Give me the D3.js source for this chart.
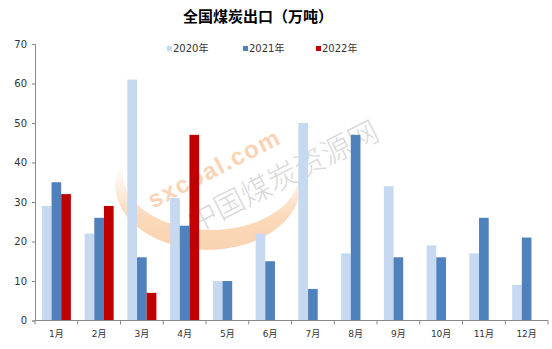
<!DOCTYPE html>
<html>
<head>
<meta charset="utf-8">
<script src="https://cdn.jsdelivr.net/npm/d3@7"></script>
<style>
  body { margin:0; background:#fff; }
  text { font-family: Tahoma, "DejaVu Sans", "Noto Sans CJK SC", sans-serif; }
</style>
</head>
<body>
<div class="container"></div>
<script>
// 数据
var months=["1月","2月","3月","4月","5月","6月","7月","8月","9月","10月","11月","12月"];
var series=["2020年","2021年","2022年"];
var v2020=[29,22,61,31,10,22,50,17,34,19,17,9];
var v2021=[35,26,16,24,10,15,8,47,16,16,26,21];
var v2022=[32,29,7,47];
var yTicks=[0,10,20,30,40,50,60,70];
var colors=["#C6D9F1","#4F81BD","#C00000"];

var w=552, h=349;
var mLeft=35, mRight=548, mTop=44, mBottom=320.5;
var groupW=29;

var svg=d3.select(".container").append("svg")
  .attr("width",w).attr("height",h);

// 水印（椭圆月牙）
function ell(cx,cy,rx,ry){
  return "M"+(cx-rx)+","+cy+" a"+rx+","+ry+" 0 1,0 "+(2*rx)+",0 a"+rx+","+ry+" 0 1,0 "+(-2*rx)+",0 Z";
}
var defs=svg.append("defs");
var grad=defs.append("linearGradient").attr("id","wg")
  .attr("x1","0").attr("y1","0").attr("x2","0").attr("y2","1");
grad.append("stop").attr("offset","0.35").attr("stop-color","#F8B070").attr("stop-opacity",0);
grad.append("stop").attr("offset","0.75").attr("stop-color","#F6A55A").attr("stop-opacity",1);
grad.append("stop").attr("offset","1").attr("stop-color","#F39A4C").attr("stop-opacity",1);
defs.append("clipPath").attr("id","wc")
  .append("path").attr("d",ell(208,185,93,65));
var wmark=svg.append("g").attr("opacity",0.42);
wmark.append("path")
  .attr("d",ell(208,185,93,65)+ell(211,174,88,56))
  .attr("fill-rule","evenodd").attr("clip-path","url(#wc)")
  .attr("fill","url(#wg)");
wmark.append("text")
  .attr("transform","translate(215,170) rotate(-27)")
  .attr("text-anchor","middle").attr("dominant-baseline","middle")
  .attr("fill","#F29A4E").attr("font-weight","bold")
  .style("font-family","Arial, 'Liberation Sans', sans-serif")
  .style("font-size","24px").style("letter-spacing","1.5px")
  .text("sxcoal.com");
svg.append("text")
  .attr("transform","translate(284,179) rotate(-27)")
  .attr("text-anchor","middle").attr("dominant-baseline","middle")
  .attr("fill","#B5B5B5").attr("opacity",0.5)
  .style("font-family","'Noto Sans CJK SC', sans-serif")
  .style("font-size","30px").style("font-weight","300")
  .text("中国煤炭资源网");

// 比例尺
var x=d3.scaleBand().domain(months).range([mLeft,mRight]);
var off=(x.bandwidth()-groupW)/2;
var xs=d3.scaleBand().domain(series).range([off,off+groupW]);
var y=d3.scaleLinear().domain([0,70]).range([mBottom,mTop]);

// 柱子
var data=[];
months.forEach(function(m,i){
  [v2020,v2021,v2022].forEach(function(arr,j){
    if(arr[i]!=null) data.push({month:m,s:series[j],v:arr[i],c:colors[j]});
  });
});
svg.append("g").selectAll("rect").data(data).enter().append("rect")
  .attr("x",function(d){return x(d.month)+xs(d.s);})
  .attr("y",function(d){return y(d.v);})
  .attr("width",xs.bandwidth())
  .attr("height",function(d){return y(0)-y(d.v);})
  .attr("fill",function(d){return d.c;});

// y轴
var yAxis=d3.axisLeft(y).tickValues(yTicks).tickSize(3).tickPadding(5);
var gy=svg.append("g").attr("transform","translate("+mLeft+",0)").call(yAxis);
gy.selectAll("line").attr("stroke","#888");
gy.select(".domain").attr("stroke","#888");
gy.selectAll("text").attr("fill","#333").style("font-size","10px");

// x轴
var gx=svg.append("g").attr("transform","translate(0,"+mBottom+")");
gx.append("line").attr("x1",mLeft).attr("x2",mRight).attr("stroke","#888");
var bounds=months.map(function(m){return x(m);}).concat([mRight]);
gx.selectAll(".tk").data(bounds).enter().append("line")
  .attr("x1",function(d){return d;}).attr("x2",function(d){return d;})
  .attr("y1",0).attr("y2",4).attr("stroke","#888");
gx.selectAll(".lb").data(months).enter().append("text")
  .attr("x",function(d){return x(d)+x.bandwidth()/2;})
  .attr("y",16).attr("text-anchor","middle")
  .attr("fill","#333").style("font-size","9px")
  .text(function(d){return d;});

// 标题
svg.append("text").attr("x",258).attr("y",22).attr("text-anchor","middle")
  .attr("font-weight","bold").style("font-size","15px").attr("fill","#000")
  .style("font-family","'Noto Sans CJK SC', sans-serif")
  .text("全国煤炭出口（万吨）");

// 图例
var legX=[167,243,316];
var leg=svg.append("g").selectAll("g").data(series).enter().append("g")
  .attr("transform",function(d,i){return "translate("+legX[i]+",49)";});
leg.append("rect").attr("x",0).attr("y",-3).attr("width",5).attr("height",5)
  .attr("fill",function(d,i){return colors[i];});
leg.append("text").attr("x",6).attr("y",0).attr("dominant-baseline","middle")
  .attr("fill","#333").style("font-size","10px")
  .text(function(d){return d;});
</script>
</body>
</html>
